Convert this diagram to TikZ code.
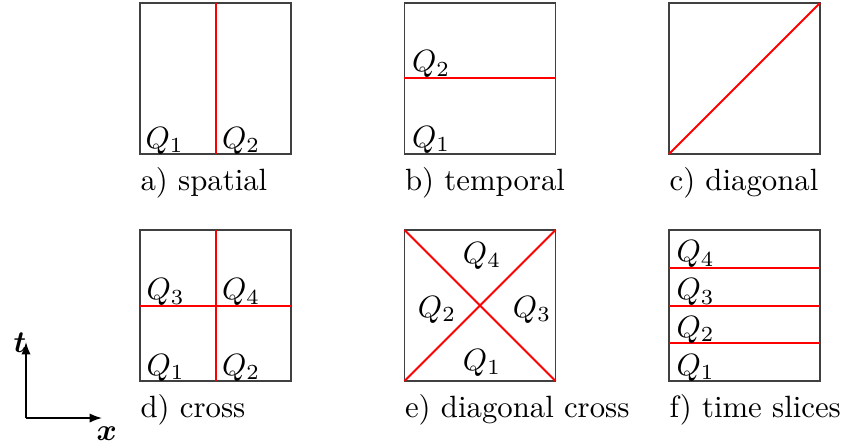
\documentclass[tikz,border=0pt]{standalone}
\usepackage{amsmath}
\usetikzlibrary{calc,arrows.meta}
\begin{document}
\begin{tikzpicture}[x=0.325pt,y=-0.325pt,
  box/.style={draw=black!75,line width=0.6pt,minimum width=49.1pt,minimum height=49.1pt,inner sep=0pt,outer sep=0pt},
  cut/.style={draw=red,line width=0.65pt},
  lab/.style={inner sep=0pt,anchor=base west},
  clab/.style={inner sep=0pt,anchor=base},
  captext/.style={inner sep=0pt,anchor=base west},
  axis/.style={line width=0.5pt,-{Latex[length=4pt,width=3pt]}}]
\useasboundingbox (0,0) rectangle (847,447);
% boxes
\node[box] (A) at (215.5,78.5) {};
\node[box] (B) at (480,78.5) {};
\node[box] (C) at (744.5,78.5) {};
\node[box] (D) at (215.5,305.5) {};
\node[box] (E) at (480,305.5) {};
\node[box] (F) at (744.5,305.5) {};
% a) spatial
\draw[cut] (A.north) -- (A.south);
\node[lab] (a1) at ($(A.south west)+(5,-6)$) {$Q_1$};
\node[lab] (a2) at ($(A.south)+(6,-6)$) {$Q_2$};
\node[captext] (ca) at ($(A.south west)+(0,36)$) {a) spatial};
% b) temporal
\draw[cut] (B.west) -- (B.east);
\node[lab] (b1) at ($(B.south west)+(7,-7)$) {$Q_1$};
\node[lab] (b2) at ($(B.west)+(7,-7)$) {$Q_2$};
\node[captext] (cb) at ($(B.south west)+(0,36)$) {b) temporal};
% c) diagonal
\draw[cut] (C.south west) -- (C.north east);
\node[captext] (cc) at ($(C.south west)+(0,36)$) {c) diagonal};
% d) cross
\draw[cut] (D.north) -- (D.south);
\draw[cut] (D.west) -- (D.east);
\node[lab] (d1) at ($(D.south west)+(6,-6)$) {$Q_1$};
\node[lab] (d2) at ($(D.south)+(6,-6)$) {$Q_2$};
\node[lab] (d3) at ($(D.west)+(6,-6)$) {$Q_3$};
\node[lab] (d4) at ($(D.center)+(6,-6)$) {$Q_4$};
\node[captext] (cd) at ($(D.south west)+(0,36)$) {d) cross};
% e) diagonal cross
\draw[cut] (E.south west) -- (E.north east);
\draw[cut] (E.north west) -- (E.south east);
\node[clab] (e1) at ($(E.center)+(2,64.5)$) {$Q_1$};
\node[clab] (e2) at ($(E.center)+(-43,11.5)$) {$Q_2$};
\node[clab] (e3) at ($(E.center)+(52,11.5)$) {$Q_3$};
\node[clab] (e4) at ($(E.center)+(2,-42.5)$) {$Q_4$};
\node[captext] (ce) at ($(E.south west)+(0,36)$) {e) diagonal cross};
% f) time slices
\coordinate (fw1) at ($(F.south west)!0.25!(F.north west)$);
\coordinate (fe1) at ($(F.south east)!0.25!(F.north east)$);
\coordinate (fw3) at ($(F.south west)!0.75!(F.north west)$);
\coordinate (fe3) at ($(F.south east)!0.75!(F.north east)$);
\draw[cut] (fw1) -- (fe1);
\draw[cut] (F.west) -- (F.east);
\draw[cut] (fw3) -- (fe3);
\node[lab] (f1) at ($(F.south west)+(7,-6)$) {$Q_1$};
\node[lab] (f2) at ($(fw1)+(7,-6)$) {$Q_2$};
\node[lab] (f3) at ($(F.west)+(7,-6)$) {$Q_3$};
\node[lab] (f4) at ($(fw3)+(7,-6)$) {$Q_4$};
\node[captext] (cf) at ($(F.south west)+(0,36)$) {f) time slices};
% axes
\coordinate (O) at (26,418);
\coordinate (T) at (26,342);
\coordinate (X) at (102,418);
\draw[axis] (O) -- (T);
\draw[axis] (O) -- (X);
\node[inner sep=0pt,anchor=base east] (tl) at ($(T)+(1,10)$) {$\boldsymbol{t}$};
\node[inner sep=0pt,anchor=base west] (xl) at ($(X)+(-6,22)$) {$\boldsymbol{x}$};
\end{tikzpicture}
\end{document}
